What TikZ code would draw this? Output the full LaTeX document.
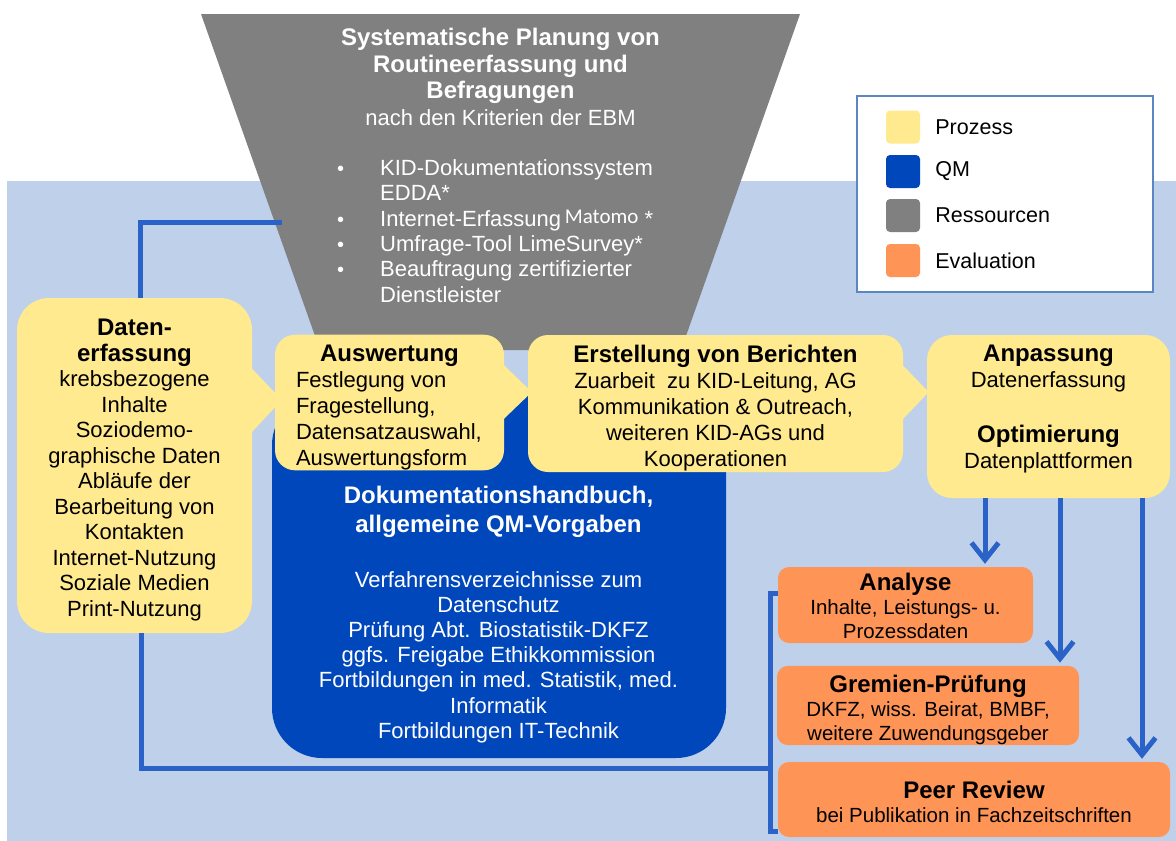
\documentclass[tikz,border=0pt]{standalone}
\usepackage{fontspec}
\setmainfont{Liberation Sans}
\newfontfamily\matomofont{Carlito}
\usetikzlibrary{arrows.meta,positioning,calc}
\definecolor{hintergrund}{HTML}{BFD0EB}
\definecolor{prozessgelb}{HTML}{FFEA8F}
\definecolor{qmblau}{HTML}{0047BB}
\definecolor{ressourcengrau}{HTML}{808080}
\definecolor{evalorange}{HTML}{FF9457}
\definecolor{linienblau}{HTML}{2B62C8}
\definecolor{rahmenblau}{HTML}{5B86C4}
\newcommand{\kopf}[1]{{\fontsize{24}{25.5}\selectfont\bfseries #1}}
\newcommand{\punkt}{\llap{{\fontsize{20}{20}\selectfont\textbullet}\hspace{36pt}}}

\begin{document}
\begin{tikzpicture}[
  x=1pt, y=-1pt,
  feld/.style={inner sep=0pt, align=center, text=black,
    font=\fontsize{22}{25.5}\selectfont},
  prozess/.style={feld, fill=prozessgelb, rounded corners=20pt},
  qmfeld/.style={feld, fill=qmblau, rounded corners=50pt},
  evaluation/.style={feld, fill=evalorange, rounded corners=11pt,
    font=\fontsize{20.5}{24}\selectfont},
  weiss/.style={inner sep=0pt, align=center, text=white,
    font=\fontsize{22}{25.3}\selectfont},
  zeiger/.style={fill=prozessgelb},
  verbindung/.style={draw=linienblau, line width=5pt},
  pfeil/.style={verbindung, -{Straight Barb[length=17pt,width=27pt]}, shorten >=3pt},
  legfeld/.style={minimum width=34pt, minimum height=33pt, inner sep=0pt, rounded corners=4pt},
  legtext/.style={inner sep=0pt, font=\fontsize{21.5}{24}\selectfont}
]
\useasboundingbox (0,0) rectangle (1176,841);
\fill[white] (0,0) rectangle (1176,841);
\fill[hintergrund] (7,181) rectangle (1176,841);

% Ressourcen-Trichter
\fill[ressourcengrau] (201,14) -- (800,14) -- (681,350) -- (320,350) -- cycle;
\coordinate (trichter) at (282,222);
\node[weiss, font=\fontsize{22}{26.5}\selectfont] (titel) at (500.5,77)
  {{\fontsize{24}{26.5}\selectfont\bfseries Systematische Planung von}\\
   {\fontsize{24}{26.5}\selectfont\bfseries Routineerfassung und}\\
   {\fontsize{24}{26.5}\selectfont\bfseries Befragungen}\\ nach den Kriterien der EBM};
\node[weiss, align=left, anchor=west] (liste) at (380,231)
  {\punkt KID-Dokumentationssystem\\
   EDDA*\\
   \punkt Internet-Erfassung\,\raisebox{3pt}{\matomofont\fontsize{21}{21}\selectfont Matomo} *\\
   \punkt Umfrage-Tool LimeSurvey*\\
   \punkt Beauftragung zertifizierter\\
   Dienstleister};

% QM
\node[qmfeld, minimum width=454pt, minimum height=363pt] (qm) at (499,576.5) {};
\node[weiss, font=\fontsize{22}{25}\selectfont] (qmtext) at (498.5,615)
  {\kopf{Dokumentationshandbuch,}\\[4pt] \kopf{allgemeine QM-Vorgaben}\\[30pt]
   Verfahrensverzeichnisse zum\\ Datenschutz\\ Prüfung Abt. Biostatistik-DKFZ\\
   ggfs. Freigabe Ethikkommission\\ Fortbildungen in med. Statistik, med.\\[1pt]
   Informatik\\ Fortbildungen IT-Technik};

% Prozess
\node[prozess, rounded corners=32pt, minimum width=235pt, minimum height=335pt] (daten) at (134.5,465.5)
  {\rule{0pt}{26pt}\kopf{Daten-}\\ \kopf{erfassung}\\ krebsbezogene\\ Inhalte\\ Soziodemo-\\
   graphische Daten\\ Abläufe der\\ Bearbeitung von\\ Kontakten\\
   Internet-Nutzung\\ Soziale Medien\\ Print-Nutzung};
\node[prozess, align=left, minimum width=229pt, minimum height=135pt,
  font=\fontsize{22}{26}\selectfont] (ausw) at (389.5,402.5)
  {\makebox[187pt]{\rule{0pt}{27pt}\kopf{Auswertung}}\\ Festlegung von\\ Fragestellung,\\
   Datensatzauswahl,\\ Auswertungsform};
\node[prozess, minimum width=375pt, minimum height=137pt,
  font=\fontsize{22}{26}\selectfont] (erst) at (715.5,403.5)
  {\rule{0pt}{27pt}\kopf{Erstellung von Berichten}\\ Zuarbeit\ \ zu KID-Leitung, AG\\
   Kommunikation \& Outreach,\\ weiteren KID-AGs und\\ Kooperationen};
\node[prozess, rounded corners=25pt, minimum width=243pt, minimum height=163pt] (anp) at (1048.5,416.5) {};
\node[feld, font=\fontsize{22}{26.5}\selectfont] (anptext) at (1048.5,409)
  {\kopf{Anpassung}\\ Datenerfassung\\[28pt] \kopf{Optimierung}\\ Datenplattformen};

\fill[zeiger] ($(daten.north east)+(-1,70)$) -- ($(ausw.west)+(7,-2.5)$)
  -- ($(daten.north east)+(-1,135)$) -- cycle;
\fill[zeiger] ($(ausw.north east)+(-1,30)$) -- ($(erst.west)+(4,-11.5)$)
  -- ($(ausw.north east)+(-1,85)$) -- cycle;
\fill[zeiger] ($(erst.north east)+(-1,30)$) -- ($(anp.west)+(2,-24.5)$)
  -- ($(erst.north east)+(-1,85)$) -- cycle;

% Evaluation
\node[evaluation, minimum width=255pt, minimum height=76pt] (ana) at (905.5,605)
  {\rule{0pt}{19pt}\kopf{Analyse}\\ Inhalte, Leistungs- u.\\ Prozessdaten};
\node[evaluation, minimum width=302pt, minimum height=75pt] (grem) at (928,705.5)
  {\rule{0pt}{27pt}\kopf{Gremien-Prüfung}\\ DKFZ, wiss. Beirat, BMBF,\\ weitere Zuwendungsgeber};
\node[evaluation, minimum width=392pt, minimum height=75pt] (peer) at (974,799.5)
  {\rule{0pt}{22.5pt}\kopf{Peer Review}\\ bei Publikation in Fachzeitschriften};

% Verbindungen
\coordinate (klammer) at (770,768);
\draw[verbindung] (trichter) -| ([xshift=5.5pt]daten.north);
\draw[verbindung] ([xshift=6.5pt]daten.south) |- (klammer);
\draw[verbindung] ([yshift=12pt]ana.west) -| (klammer) |- ([yshift=-31.5pt]peer.west);
\draw[pfeil] ([xshift=-63.5pt]anp.south) -- ([xshift=-63.5pt]anp.south |- ana.north);
\draw[pfeil] ([xshift=11.5pt]anp.south) -- ([xshift=11.5pt]anp.south |- grem.north);
\draw[pfeil] ([xshift=93.5pt]anp.south) -- ([xshift=93.5pt]anp.south |- peer.north);

% Legende
\node[draw=rahmenblau, line width=2pt, fill=white, minimum width=296pt, minimum height=196pt] (legende) at (1005,194) {};
\node[legfeld, fill=prozessgelb] (lprozess) at (903,127) {};
\node[legfeld, fill=qmblau] (lqm) at (903,171.5) {};
\node[legfeld, fill=ressourcengrau] (lress) at (903,215.5) {};
\node[legfeld, fill=evalorange] (leval) at (903,260.5) {};
\node[legtext, right=15pt of lprozess] (tprozess) {Prozess};
\node[legtext, right=15pt of lqm] (tqm) {QM};
\node[legtext, right=15pt of lress] (tress) {Ressourcen};
\node[legtext, right=15pt of leval] (teval) {Evaluation};
\end{tikzpicture}
\end{document}
